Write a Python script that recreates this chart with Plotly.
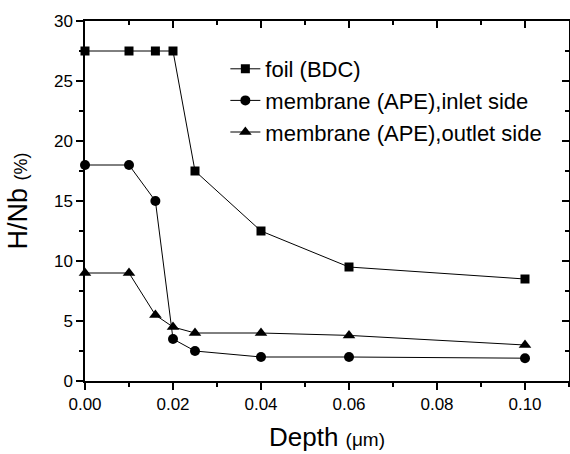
import plotly.graph_objects as go

depth = [0.0, 0.01, 0.016, 0.02, 0.025, 0.04, 0.06, 0.10]
foil = [27.5, 27.5, 27.5, 27.5, 17.5, 12.5, 9.5, 8.5]
inlet = [18.0, 18.0, 15.0, 3.5, 2.5, 2.0, 2.0, 1.9]
outlet = [9.0, 9.0, 5.5, 4.5, 4.0, 4.0, 3.8, 3.0]
names = ["foil (BDC)", "membrane (APE),inlet side", "membrane (APE),outlet side"]
xticks = [0.0, 0.02, 0.04, 0.06, 0.08, 0.10]
xticktext = ["0.00", "0.02", "0.04", "0.06", "0.08", "0.10"]
yticks = [0, 5, 10, 15, 20, 25, 30]

FONT = "Liberation Sans, Arial, sans-serif"
fig = go.Figure()
for ys, nm, sym, sz in [(foil, names[0], "square", 9),
                        (inlet, names[1], "circle", 10),
                        (outlet, names[2], "triangle-up", 11)]:
    fig.add_trace(go.Scatter(x=depth, y=ys, name=nm, mode="lines+markers",
                             line=dict(color="black", width=1),
                             marker=dict(symbol=sym, size=sz, color="black"),
                             cliponaxis=False))

# mirror axes with inward ticks
fig.add_trace(go.Scatter(x=[None], y=[None], xaxis="x2", yaxis="y2", showlegend=False))

axis_common = dict(showline=True, linecolor="black", linewidth=1.5, showgrid=False,
                   zeroline=False, tickcolor="black", tickwidth=1.5)
fig.update_layout(
    width=570, height=454,
    margin=dict(l=85, r=1, t=21, b=73),
    paper_bgcolor="white", plot_bgcolor="white",
    font=dict(family=FONT, color="black", size=17),
    xaxis=dict(range=[0, 0.11], tickvals=xticks, ticktext=xticktext, ticks="outside",
               ticklen=7, minor=dict(dtick=0.01, ticks="outside", ticklen=4, tickcolor="black", tickwidth=1.5),
               title=dict(text="Depth <span style='font-size:19px'>(μm)</span>",
                          font=dict(size=26), standoff=15),
               tickfont=dict(size=17), **axis_common),
    yaxis=dict(range=[0, 30], tickvals=yticks, ticks="outside", ticklen=7,
               minor=dict(dtick=2.5, ticks="outside", ticklen=4, tickcolor="black", tickwidth=1.5),
               title=dict(text="H/Nb <span style='font-size:18px'>(%)</span>",
                          font=dict(size=27), standoff=18),
               tickfont=dict(size=17), **axis_common),
    xaxis2=dict(overlaying="x", side="top", matches="x", range=[0, 0.11], tickvals=xticks,
                ticks="inside", ticklen=7, showticklabels=False,
                minor=dict(dtick=0.01, ticks="inside", ticklen=4, tickcolor="black", tickwidth=1.5),
                **axis_common),
    yaxis2=dict(overlaying="y", side="right", matches="y", range=[0, 30], tickvals=yticks,
                ticks="inside", ticklen=7, showticklabels=False,
                minor=dict(dtick=2.5, ticks="inside", ticklen=4, tickcolor="black", tickwidth=1.5),
                **axis_common),
    legend=dict(x=0.29, y=0.925, xanchor="left", yanchor="top", bgcolor="rgba(0,0,0,0)",
                font=dict(size=22, family=FONT), tracegroupgap=0, itemwidth=30),
    showlegend=True,
)
fig.write_html("out.html")
